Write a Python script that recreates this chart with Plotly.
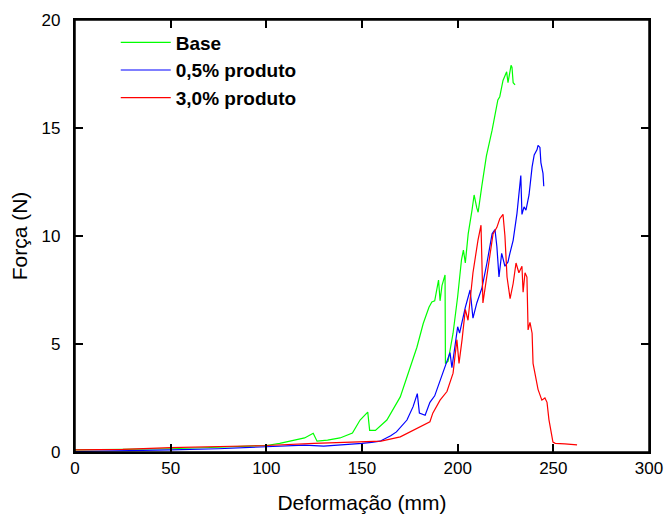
import plotly.graph_objects as go

# Base (green)
base_x = [0, 25, 50, 75, 100, 107, 115, 120, 124.5, 126.5, 132, 138.5, 145, 149, 153, 154, 157, 163,
          170, 175, 178.7, 182, 185, 186.5, 188, 190, 190.8, 191.8, 193.4, 193.6, 195, 197.6, 200, 202,
          203, 204, 205.5, 207.5, 208.6, 210, 210.7, 212.6, 215, 218, 220, 221, 222, 223.7, 225.6,
          226.3, 227.9, 228.4, 229, 230]
base_y = [0.1, 0.12, 0.15, 0.22, 0.3, 0.4, 0.55, 0.65, 0.87, 0.5, 0.55, 0.65, 0.88, 1.48, 1.85, 1.0, 1.0, 1.48,
          2.55, 3.9, 4.85, 5.95, 6.7, 6.95, 7.0, 7.96, 7.0, 7.7, 8.2, 4.1, 4.2, 5.5, 7.2, 8.9,
          9.35, 8.75, 10.1, 11.2, 11.9, 11.3, 11.1, 12.3, 13.7, 14.9, 15.8, 16.3, 16.45, 17.2, 17.6,
          17.1, 17.9, 17.8, 17.1, 17.0]

# 0,5% produto (blue)
p05_x = [0, 25, 50, 75, 100, 120, 130, 140, 150, 155, 159.4, 165, 168, 173.5, 176.7, 178.9, 180, 183,
         185.5, 188, 190.8, 193.4, 196, 197, 198.6, 200, 201, 204, 206.5, 208, 210, 212.7, 215.3, 218,
         219.5, 220.5, 221.6, 223, 224.7, 226.3, 227.3, 229, 231, 232, 233, 233.6, 234.7, 235.7, 237.3,
         238.9, 240, 241.5, 242, 243, 243.5, 244.6, 245]
p05_y = [0.02, 0.05, 0.1, 0.15, 0.25, 0.32, 0.27, 0.32, 0.4, 0.45, 0.5, 0.75, 0.93, 1.48, 2.1, 2.7, 1.8, 1.7,
         2.3, 2.6, 3.3, 3.9, 4.6, 3.9, 5.0, 5.8, 5.5, 6.7, 7.5, 6.2, 6.9, 7.6, 8.75, 10.1,
         10.3, 9.5, 8.1, 9.2, 8.6, 8.8, 9.2, 9.8, 11.05, 12.1, 12.8, 11.0, 11.35, 11.2, 11.9,
         13.2, 13.75, 14.0, 14.2, 14.1, 13.4, 12.9, 12.3]

# 3,0% produto (red)
p30_x = [0, 25, 50, 75, 100, 125, 150, 160, 170, 175, 180, 185.5, 187, 190.8, 194.4, 197.6, 199.6, 200.7,
         202.3, 204, 205.4, 208, 210.6, 212.2, 213.2, 214.8, 216.4, 218.5, 220.5, 222, 223.7, 224.7,
         225.8, 227.4, 229, 230.5, 232, 233.6, 234.2, 235.2, 236.2, 236.8, 237.8, 238.9, 239.4, 240,
         241, 242, 244, 245.6, 246.7, 247.7, 249.8, 251, 256, 262.4]
p30_y = [0.1, 0.12, 0.2, 0.25, 0.3, 0.4, 0.45, 0.5, 0.7, 0.93, 1.16, 1.4, 1.8, 2.4, 2.8, 3.65, 5.2, 4.1,
         5.2, 6.6, 6.1, 8.3, 9.8, 10.5, 6.9, 7.8, 8.9, 10.1, 10.4, 10.8, 11.0, 10.0,
         8.1, 7.1, 7.8, 8.75, 8.3, 8.6, 7.4, 8.3, 8.1, 5.65, 6.0, 5.5, 4.1, 3.8,
         3.5, 2.9, 2.4, 2.5, 2.3, 1.5, 0.46, 0.4, 0.38, 0.33]

series = [
    ("Base", base_x, base_y, "#00ff00"),
    ("0,5% produto", p05_x, p05_y, "#0000ff"),
    ("3,0% produto", p30_x, p30_y, "#ff0000"),
]

X_RANGE = [0, 300]
Y_RANGE = [0, 20]

FONT = "Arial, Liberation Sans, sans-serif"

fig = go.Figure()
for name, xs, ys, col in series:
    fig.add_trace(go.Scatter(x=xs, y=ys, mode="lines", name=name,
                             line=dict(color=col, width=1.2)))

axis_common = dict(
    showline=True, linecolor="black", linewidth=1.5, mirror="allticks",
    ticks="inside", ticklen=8, tickwidth=1.5, tickcolor="black",
    showgrid=False, zeroline=False, automargin=False,
    tickfont=dict(family=FONT, size=17, color="black"),
)
minor_common = dict(
    showline=True, linecolor="black", linewidth=1.5, mirror="allticks",
    ticks="inside", ticklen=4, tickwidth=1.5, tickcolor="black",
    showgrid=False, zeroline=False, automargin=False, showticklabels=False,
)

fig.update_layout(
    xaxis=dict(range=X_RANGE, dtick=50, tick0=0,
               title=dict(text="Deformação (mm)", font=dict(family=FONT, size=21, color="black"),
                          standoff=25),
               **axis_common),
    yaxis=dict(range=Y_RANGE, dtick=5, tick0=0, ticksuffix="  ",
               title=dict(text="Força (N)", font=dict(family=FONT, size=21, color="black"),
                          standoff=8),
               **axis_common),
    xaxis2=dict(range=X_RANGE, dtick=25, tick0=0, overlaying="x", anchor="y", side="bottom",
                **minor_common),
    yaxis2=dict(range=Y_RANGE, dtick=2.5, tick0=0, overlaying="y", anchor="x", side="left",
                **minor_common),
)

fig.update_layout(
    width=665, height=514,
    margin=dict(l=75, r=16, t=20, b=62),
    paper_bgcolor="white", plot_bgcolor="white",
    font=dict(family=FONT, color="black"),
    legend=dict(x=0.071, y=0.992, xanchor="left", yanchor="top",
                bgcolor="rgba(0,0,0,0)", borderwidth=0,
                font=dict(family=FONT, size=19, color="black", weight="bold"),
                tracegroupgap=0, itemwidth=50),
    shapes=[dict(type="rect", xref="paper", yref="paper", x0=0, x1=1, y0=0, y1=1,
                 line=dict(color="black", width=1.5), fillcolor="rgba(0,0,0,0)", layer="above")],
    showlegend=True,
)

# remove the page's default 8px body margin so the figure fills the window exactly
fig.write_html("out.html", config={"displayModeBar": False},
               post_script="document.body.style.margin='0px';document.body.style.overflow='hidden';")
